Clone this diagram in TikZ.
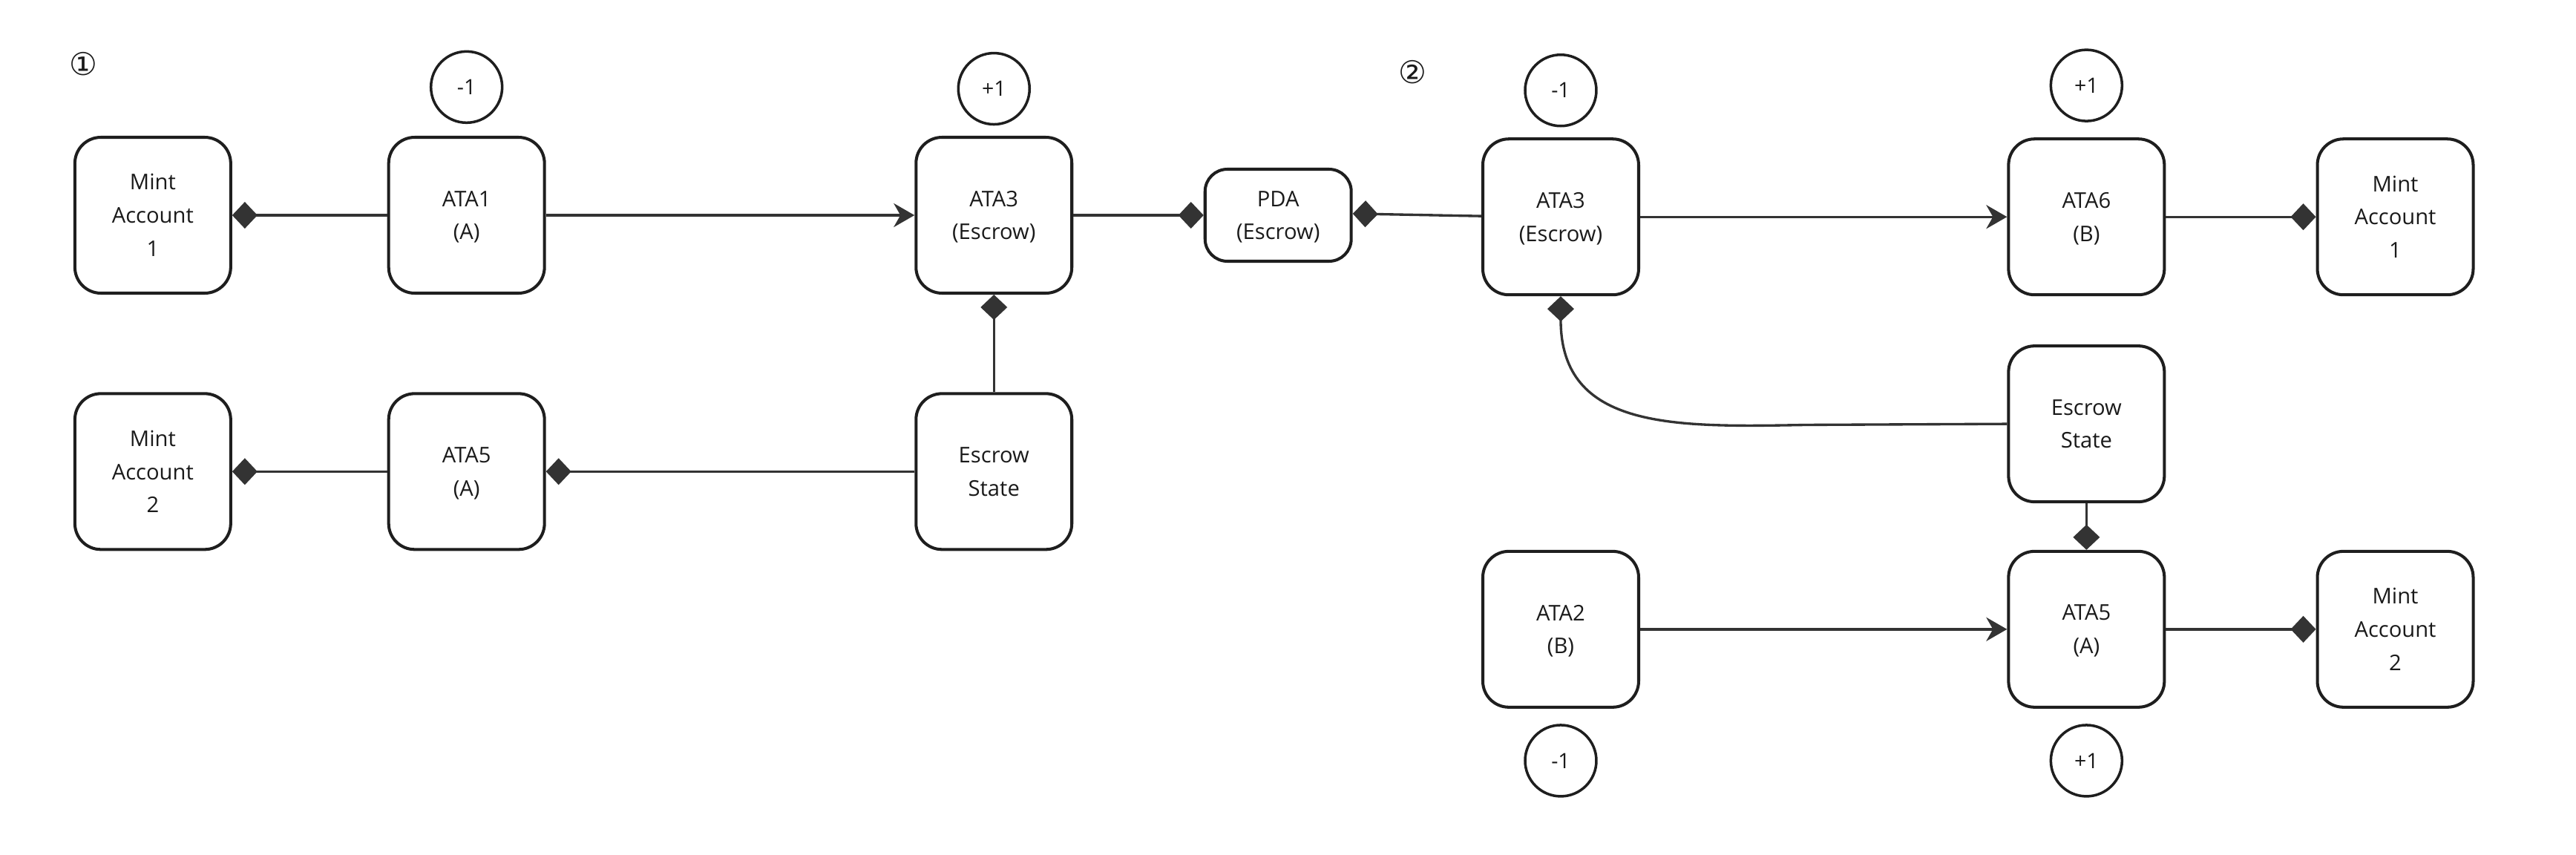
\documentclass[tikz,border=0pt]{standalone}
\usepackage{fontspec}
\setmainfont{Open Sans}
\newfontfamily\symfont{DejaVu Sans}
\usetikzlibrary{arrows.meta}
\definecolor{boxc}{HTML}{1E1E1E}
\definecolor{linec}{HTML}{333333}
\definecolor{textc}{HTML}{1A1A1A}
\begin{document}
\begin{tikzpicture}[x=0.022136cm, y=-0.022136cm,
  box/.style={draw=boxc, line width=1.15pt, rounded corners=0.35cm,
    minimum width=2.1cm, minimum height=2.1cm, align=center, inner sep=0pt,
    text=textc, font=\fontsize{8.3}{12.75}\selectfont, text depth=-1.5pt},
  smallbox/.style={box, minimum width=1.97cm, minimum height=1.24cm, rounded corners=0.3cm},
  circ/.style={circle, draw=boxc, line width=1.0pt, minimum size=0.96cm, inner sep=0pt,
    text=textc, font=\fontsize{8.1}{10}\selectfont, text depth=-0.3pt},
  num/.style={text=textc, inner sep=0pt, font=\symfont\fontsize{12}{14}\selectfont},
  conn/.style={draw=linec, line width=0.95pt},
  dia/.style={conn, -{Diamond[length=0.34cm, width=0.36cm, fill=linec]}},
  arr/.style={conn, -{Stealth[length=0.28cm, width=0.32cm, inset=0.09cm, fill=linec]}}]
\useasboundingbox (0,0) rectangle (1568,520.4);

% labels
\node[num] (one) at (51,39) {①};
\node[num] (two) at (860,44) {②};

% part 1
\node[box] (mintA1) at (93,131) {Mint\\Account\\1};
\node[box] (ata1) at (284,131) {ATA1\\(A)};
\node[box] (ata3a) at (605,131) {ATA3\\(Escrow)};
\node[smallbox] (pda) at (778,131) {PDA\\(Escrow)};
\node[box] (mintA2) at (93,287) {Mint\\Account\\2};
\node[box] (ata5a) at (284,287) {ATA5\\(A)};
\node[box] (esa) at (605,287) {Escrow\\State};
\node[circ] (c1) at (284,53) {-1};
\node[circ] (c2) at (605,54) {+1};

% part 2
\node[box] (ata3b) at (950,132) {ATA3\\(Escrow)};
\node[box] (ata6) at (1270,132) {ATA6\\(B)};
\node[box] (mintB1) at (1458,132) {Mint\\Account\\1};
\node[box] (esb) at (1270,258) {Escrow\\State};
\node[box] (ata2) at (950,383) {ATA2\\(B)};
\node[box] (ata5b) at (1270,383) {ATA5\\(A)};
\node[box] (mintB2) at (1458,383) {Mint\\Account\\2};
\node[circ] (c3) at (950,55) {-1};
\node[circ] (c4) at (1270,52) {+1};
\node[circ] (c5) at (950,463) {-1};
\node[circ] (c6) at (1270,463) {+1};

% connectors part 1
\draw[dia] (ata1.west) -- (mintA1.east);
\draw[arr] (ata1.east) -- (ata3a.west);
\draw[dia] (ata3a.east) -- (pda.west);
\draw[dia] (esa.north) -- (ata3a.south);
\draw[dia] (esa.west) -- (ata5a.east);
\draw[dia] (ata5a.west) -- (mintA2.east);

% connectors part 2
\draw[dia] ([yshift=0.3pt]ata3b.west) -- ([yshift=0.6pt]pda.east);
\draw[arr] (ata3b.east) -- (ata6.west);
\draw[dia] (ata6.east) -- (mintB1.west);
\coordinate (bend) at (1100,258.6);
\draw[dia] (esb.west) -- (bend) .. controls (1020,260) and (950,262) .. (ata3b.south);
\draw[dia] (esb.south) -- (ata5b.north);
\draw[arr] (ata2.east) -- (ata5b.west);
\draw[dia] (ata5b.east) -- (mintB2.west);
\end{tikzpicture}
\end{document}
